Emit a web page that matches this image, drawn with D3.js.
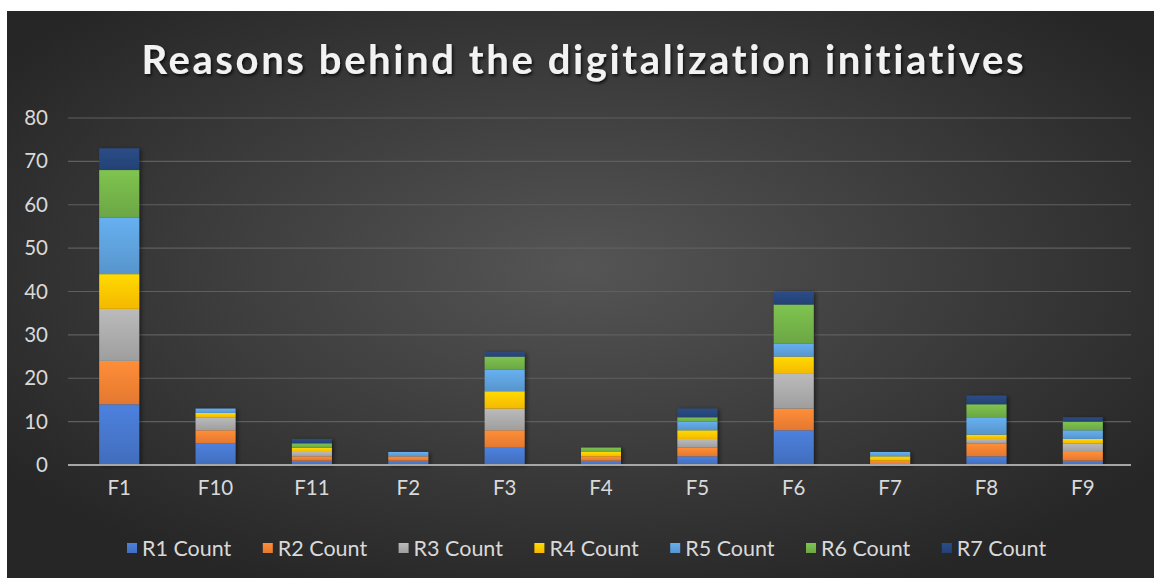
<!DOCTYPE html>
<html>
<head>
<meta charset="utf-8">
<script src="https://cdn.jsdelivr.net/npm/d3@7"></script>
<style>
  html, body { margin: 0; padding: 0; background: #ffffff; }
  svg { display: block; }
  text { font-variant-ligatures: none; }
</style>
</head>
<body>
<svg id="chart" width="1154" height="578"></svg>
<script>
// Categories along the x axis
const categories = ["F1", "F10", "F11", "F2", "F3", "F4", "F5", "F6", "F7", "F8", "F9"];

// Series names (stack order, bottom to top)
const seriesNames = ["R1 Count", "R2 Count", "R3 Count", "R4 Count", "R5 Count", "R6 Count", "R7 Count"];

// Counts per category for each series
const r1 = [14, 5, 1, 1, 4, 1, 2, 8, 0, 2, 1];
const r2 = [10, 3, 1, 1, 4, 1, 2, 5, 1, 3, 2];
const r3 = [12, 3, 1, 0, 5, 0, 2, 8, 0, 1, 2];
const r4 = [8, 1, 1, 0, 4, 1, 2, 4, 1, 1, 1];
const r5 = [13, 1, 0, 1, 5, 0, 2, 3, 1, 4, 2];
const r6 = [11, 0, 1, 0, 3, 1, 1, 9, 0, 3, 2];
const r7 = [5, 0, 1, 0, 1, 0, 2, 3, 0, 2, 1];

// Y axis tick values
const yTicks = [0, 10, 20, 30, 40, 50, 60, 70, 80];

const seriesColors = ["#4472C4", "#ED7D31", "#A5A5A5", "#FFC000", "#5B9BD5", "#70AD47", "#264478"];

const seriesValues = [r1, r2, r3, r4, r5, r6, r7];
const rows = categories.map((c, i) => {
  const row = { cat: c };
  seriesNames.forEach((s, k) => { row[s] = seriesValues[k][i]; });
  return row;
});

const W = 1154, H = 578;
const FONT = "Lato, 'Open Sans', sans-serif";
const svg = d3.select("#chart");
const defs = svg.append("defs");

// Dark radial background
const bg = defs.append("radialGradient").attr("id", "bg")
  .attr("cx", "50%").attr("cy", "45%").attr("r", "62%");
bg.append("stop").attr("offset", "0%").attr("stop-color", "#555555");
bg.append("stop").attr("offset", "100%").attr("stop-color", "#262626");

svg.append("rect").attr("x", 7).attr("y", 11).attr("width", W - 7).attr("height", H - 11)
  .attr("fill", "url(#bg)");

// Title shadow
const sh = defs.append("filter").attr("id", "tshadow").attr("x", "-10%").attr("y", "-30%")
  .attr("width", "120%").attr("height", "160%");
sh.append("feDropShadow").attr("dx", 1.5).attr("dy", 2).attr("stdDeviation", 1.8)
  .attr("flood-color", "#000").attr("flood-opacity", 0.75);

const bshadow = defs.append("filter").attr("id", "bshadow").attr("x", "-20%").attr("y", "-5%")
  .attr("width", "150%").attr("height", "110%");
bshadow.append("feDropShadow").attr("dx", 2).attr("dy", 1).attr("stdDeviation", 2)
  .attr("flood-color", "#000").attr("flood-opacity", 0.5);

// Per-series vertical gradients
seriesColors.forEach((col, k) => {
  const g = defs.append("linearGradient").attr("id", "g" + k)
    .attr("x1", 0).attr("y1", 0).attr("x2", 0).attr("y2", 1);
  g.append("stop").attr("offset", "0%").attr("stop-color", d3.color(col).brighter(0.35));
  g.append("stop").attr("offset", "100%").attr("stop-color", d3.color(col).darker(0.12));
});

// Title
svg.append("text")
  .attr("x", 582.5).attr("y", 74)
  .attr("text-anchor", "middle")
  .attr("font-family", FONT)
  .attr("font-weight", "bold")
  .attr("font-size", 40)
  .attr("fill", "#f2f2f2")
  .attr("textLength", 882)
  .attr("lengthAdjust", "spacing")
  .attr("filter", "url(#tshadow)")
  .text("Reasons behind the digitalization initiatives");

// Scales
const x = d3.scaleBand().domain(categories).range([71, 1131]).paddingInner(0.585).paddingOuter(0.2925);
const y = d3.scaleLinear().domain([0, 80]).range([465, 118]);

// Gridlines
svg.append("g")
  .selectAll("line").data(yTicks.filter(t => t > 0)).join("line")
  .attr("x1", 68).attr("x2", 1131)
  .attr("y1", d => y(d)).attr("y2", d => y(d))
  .attr("stroke", "#5f5f5f").attr("stroke-width", 1.2);

// Y axis labels
const yAxis = d3.axisLeft(y).tickValues(yTicks).tickSize(0).tickPadding(0);
const yg = svg.append("g").attr("transform", "translate(48,0)").call(yAxis);
yg.select(".domain").remove();
yg.selectAll("text")
  .attr("font-family", FONT)
  .attr("font-size", 20.5)
  .attr("fill", "#d9d9d9");

// Stacked bars
const stack = d3.stack().keys(seriesNames);
const stacked = stack(rows);

const barsG = svg.append("g").attr("filter", "url(#bshadow)");
stacked.forEach((layer, k) => {
  barsG.append("g")
    .selectAll("rect").data(layer.filter(d => d[1] - d[0] > 0)).join("rect")
    .attr("x", d => x(d.data.cat))
    .attr("width", x.bandwidth())
    .attr("y", d => y(d[1]))
    .attr("height", d => y(d[0]) - y(d[1]))
    .attr("fill", "url(#g" + k + ")");
});

// Baseline
svg.append("line")
  .attr("x1", 68).attr("x2", 1131)
  .attr("y1", y(0)).attr("y2", y(0))
  .attr("stroke", "#a6a6a6").attr("stroke-width", 2);

// X axis labels
const xAxis = d3.axisBottom(x).tickSize(0).tickPadding(0);
const xg = svg.append("g").attr("transform", `translate(0,${y(0) + 15})`).call(xAxis);
xg.select(".domain").remove();
xg.selectAll("text")
  .attr("font-family", FONT)
  .attr("font-size", 20.5)
  .attr("fill", "#d9d9d9");

// Legend
const legend = svg.append("g").attr("transform", "translate(127,548)");
const item = legend.selectAll("g").data(seriesNames).join("g")
  .attr("transform", (d, i) => `translate(${i * 135.8},0)`);
item.append("rect")
  .attr("x", 0).attr("y", -5).attr("width", 10).attr("height", 10)
  .attr("fill", (d, i) => `url(#g${i})`);
item.append("text")
  .attr("x", 15).attr("y", 0).attr("dy", "0.35em")
  .attr("font-family", FONT)
  .attr("font-size", 21.5)
  .attr("fill", "#d9d9d9")
  .text(d => d);
</script>
</body>
</html>
